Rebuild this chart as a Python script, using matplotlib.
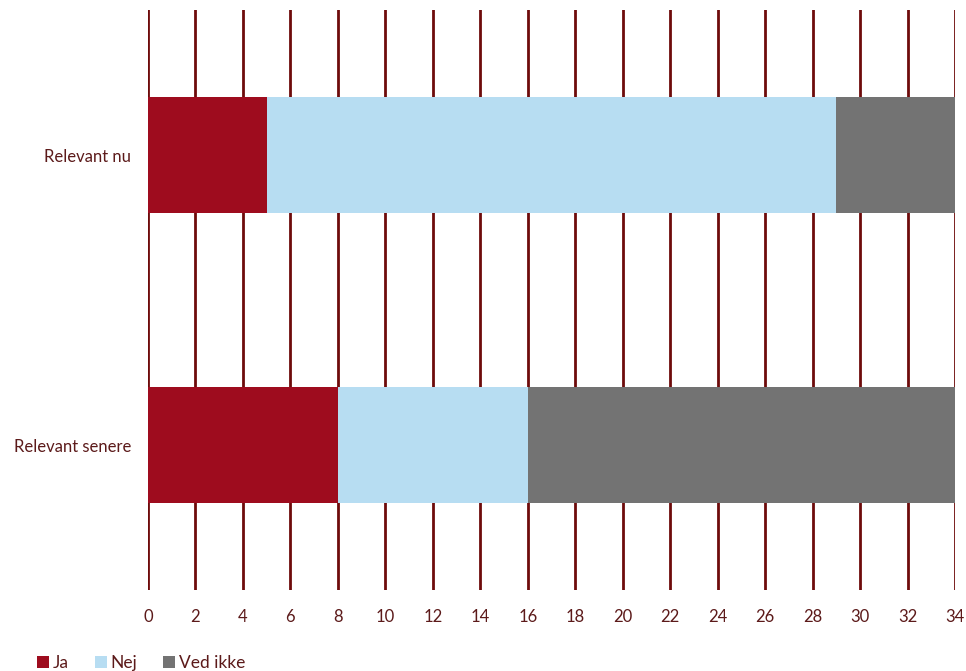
import matplotlib.pyplot as plt
from matplotlib.patches import Patch

plt.rcParams['font.family'] = ['Lato', 'DejaVu Sans']

categories = ["Relevant senere", "Relevant nu"]
series_names = ["Ja", "Nej", "Ved ikke"]
ja = [8, 5]
nej = [8, 24]
ved_ikke = [18, 5]
x_ticks = list(range(0, 35, 2))

colors = ["#9e0c1e", "#b7ddf2", "#737373"]
text_color = "#5c1a1a"
grid_color = "#6e0b0b"

fig = plt.figure(figsize=(9.66, 6.71), dpi=100)
ax = fig.add_axes([148/966, 81/671, (955-148)/966, 580/671])

left = [0, 0]
for vals, col in zip([ja, nej, ved_ikke], colors):
    ax.barh(categories, vals, left=left, height=0.4, color=col, zorder=2)
    left = [l + v for l, v in zip(left, vals)]

ax.set_xlim(0, 34)
ax.set_ylim(-0.5, 1.5)
ax.set_xticks(x_ticks)
ax.xaxis.grid(True, color=grid_color, linewidth=2, zorder=0)
ax.set_axisbelow(True)
for s in ax.spines.values():
    s.set_visible(False)
ax.tick_params(length=0, labelsize=12, labelcolor=text_color)
ax.tick_params(axis='x', pad=14)
ax.tick_params(axis='y', pad=12)

handles = [Patch(facecolor=c, edgecolor='none') for c in colors]
fig.legend(handles, series_names, loc='lower left', bbox_to_anchor=(0.022, -0.024),
           ncol=3, frameon=False, fontsize=12.5, labelcolor=text_color,
           handlelength=0.7, handleheight=0.7, handletextpad=0.2, columnspacing=1.5)

fig.savefig("out.png", dpi=100)
